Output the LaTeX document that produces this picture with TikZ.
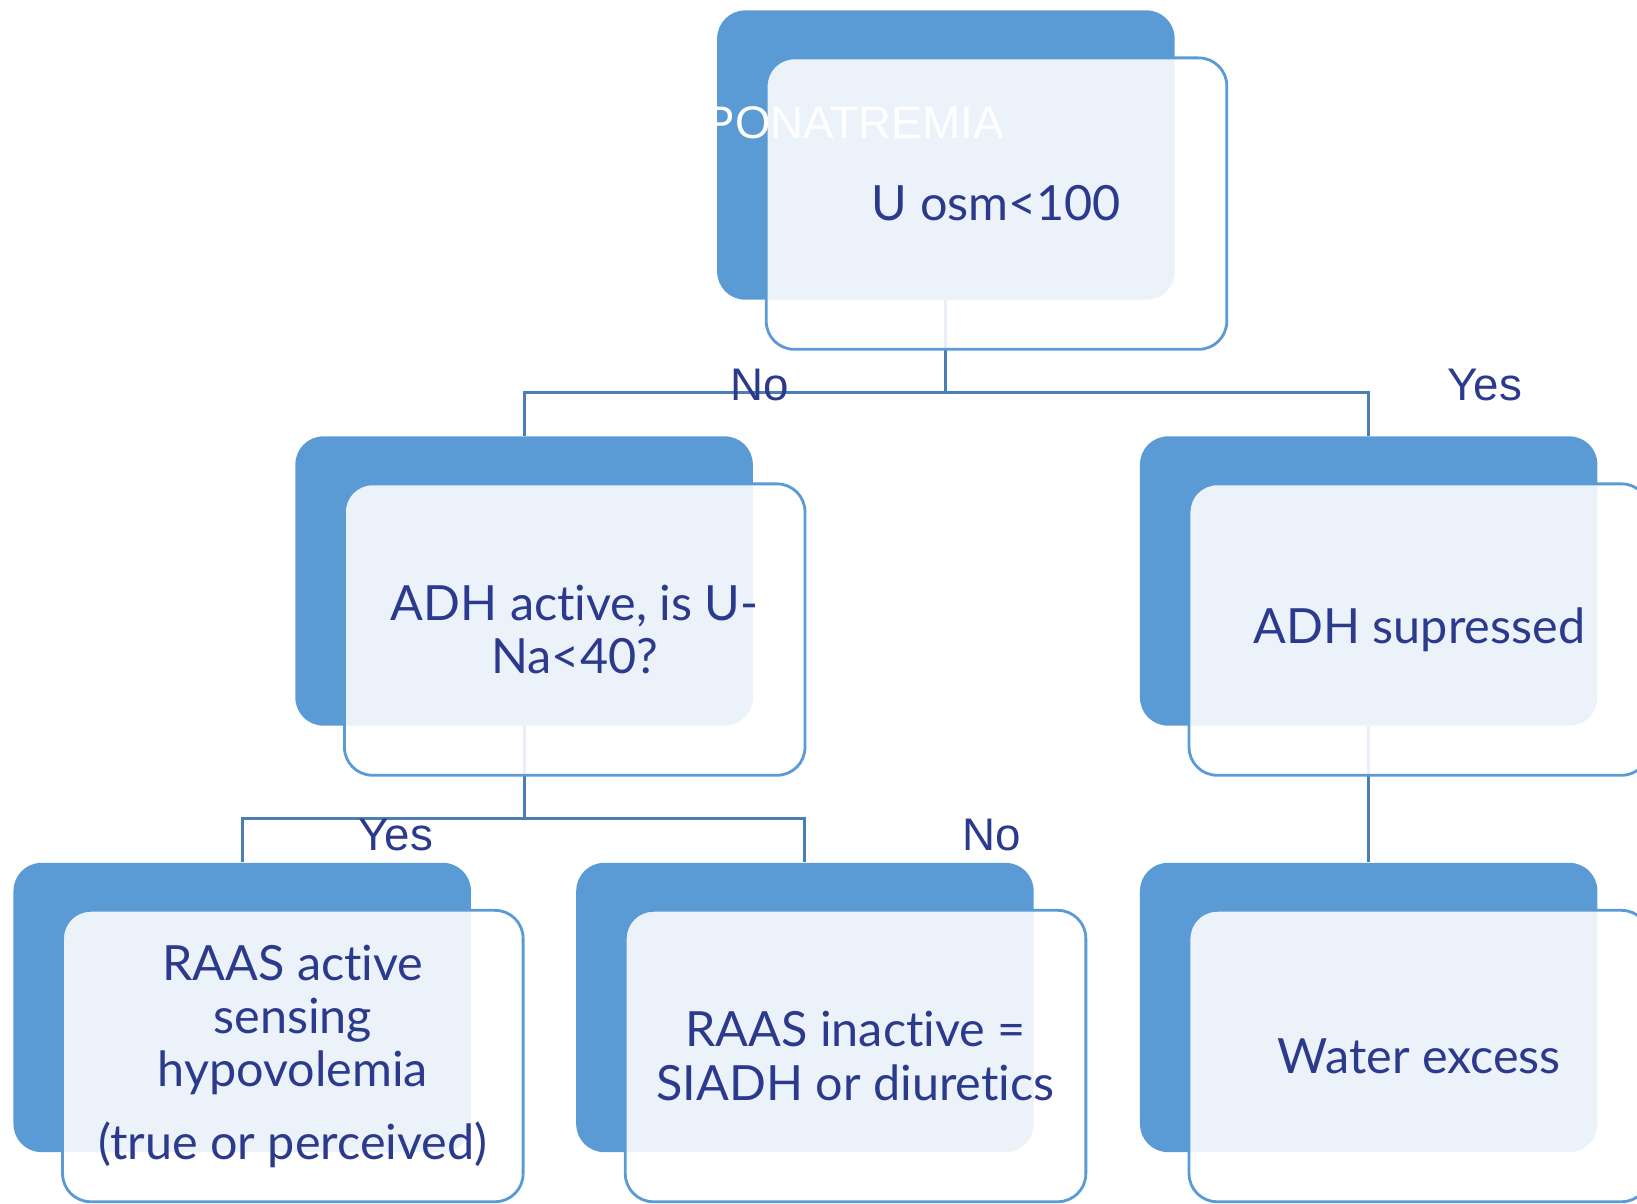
\documentclass[tikz,border=0pt]{standalone}
\usepackage{fontspec}
\setmainfont{Lato}[Ligatures={NoCommon}]
\newfontfamily\arialfont{Liberation Sans}
\usetikzlibrary{calc}
\definecolor{darkbox}{HTML}{5B9BD5}
\definecolor{navytext}{HTML}{2B3A8C}
\definecolor{linkblue}{HTML}{4A7EB5}

\begin{document}
\begin{tikzpicture}[x=0.01044cm, y=-0.01044cm,
  back/.style={fill=darkbox, rounded corners=0.28cm, minimum width=4.573cm, minimum height=2.892cm, inner sep=0},
  front/.style={draw=darkbox, line width=0.8pt, fill=white, fill opacity=0.88, text opacity=1, rounded corners=0.28cm, minimum width=4.604cm, minimum height=2.913cm, align=center, text=navytext, font=\fontsize{13.8}{15.1}\selectfont},
  link/.style={draw=linkblue, line width=0.85pt},
  answer/.style={text=navytext, inner sep=0, font=\arialfont\fontsize{13}{15}\selectfont}]
\useasboundingbox (0,0) rectangle (1568,1153);

% back boxes
\foreach \n/\x/\y in {top/906/148.5, adh/502/556.5, sup/1311/556.5, raas/232/965, siadh/771/965, water/1311/965}
  \node[back] (\n) at (\x,\y) {};

% connectors
\draw[link] (top.south) -- ++(0,88) coordinate (tj) -| (adh.north) (tj) -| (sup.north);
\draw[link] (adh.south) -- ++(0,88) coordinate (aj) -| (raas.north) (aj) -| (siadh.north);
\draw[link] (sup.south) -- (water.north);

% front boxes with text
\foreach \n/\t in {top/{U osm<100}, adh/{ADH active, is U-\\Na<40?}, sup/{ADH supressed},
    raas/{RAAS active\\sensing\\hypovolemia\\[5.6pt](true or perceived)},
    siadh/{RAAS inactive =\\SIADH or diuretics}, water/{Water excess}}
  \node[front] (\n-f) at ($(\n.center)+(48.5,46.5)$) {\t};

% answers
\node[answer] (no1) at (728,369) {No};
\node[answer] (yes1) at (1422,369) {Yes};
\node[answer] (yes2) at (379,800) {Yes};
\node[answer] (no2) at (950,800) {No};

% title, cut by the back box
\begin{scope}
  \clip[rounded corners=0.28cm] (top.south west) rectangle (top.north east);
  \node[anchor=base east, text=white, inner sep=0, font=\arialfont\fontsize{13}{15}\selectfont] (title) at (962,133) {HYPONATREMIA};
\end{scope}
\end{tikzpicture}
\end{document}
